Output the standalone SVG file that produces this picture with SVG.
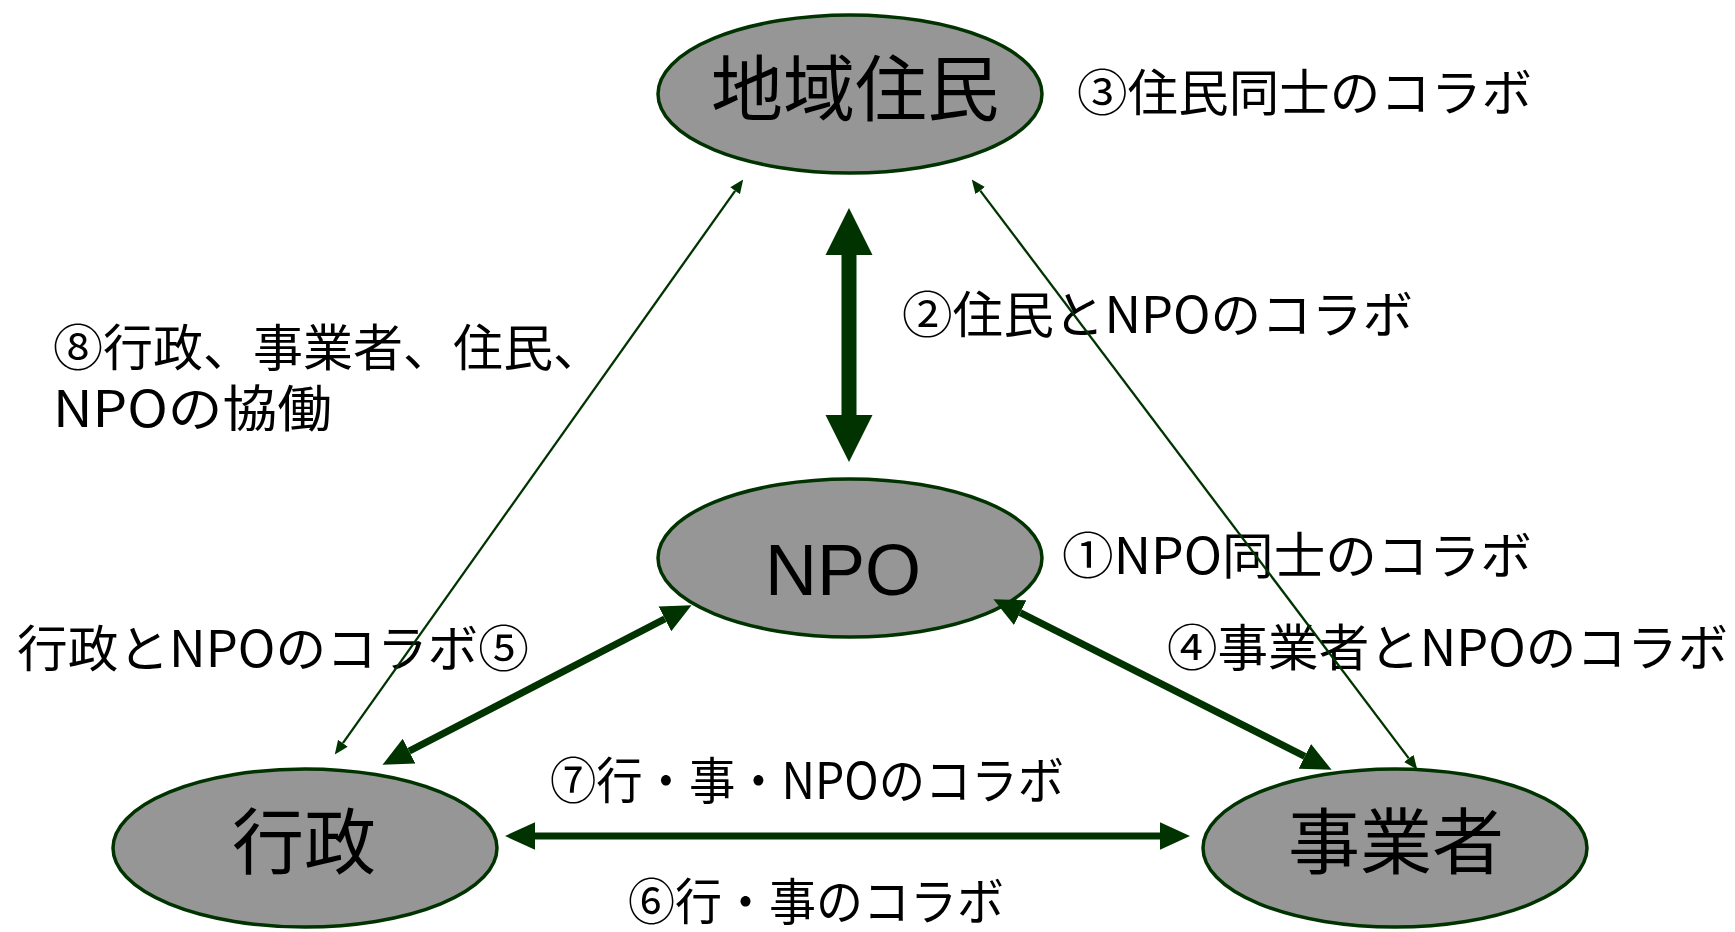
<svg xmlns="http://www.w3.org/2000/svg" width="1735" height="932" viewBox="0 0 1735 932">
<style>
.node ellipse{fill:#969696;stroke:#003300;stroke-width:3.5}
.nt{font-family:"Noto Sans CJK JP","Noto Sans CJK SC",sans-serif;font-size:72px;fill:#000;text-anchor:middle}
.nl{font-family:"Liberation Sans",Arial,sans-serif;font-size:72px;fill:#000;text-anchor:middle}
.lb{font-family:"Noto Sans CJK JP","Noto Sans CJK SC",sans-serif;font-size:50px;fill:#000}
.thick{stroke:#003300;stroke-width:7;fill:none}
.thin{stroke:#003300;stroke-width:2.3;fill:none}
</style>
<defs>
<marker id="hb" markerUnits="userSpaceOnUse" markerWidth="30" markerHeight="30" viewBox="0 0 26 24" refX="0" refY="12" orient="auto-start-reverse"><path d="M0,0 L26,12 L0,24 Z" fill="#003300"/></marker>
<marker id="hs" markerUnits="userSpaceOnUse" markerWidth="14" markerHeight="12" viewBox="0 0 13 11" refX="0" refY="5.5" orient="auto-start-reverse"><path d="M0,0 L13,5.5 L0,11 Z" fill="#003300"/></marker>
</defs>
<rect width="1735" height="932" fill="#fff"/>
<g id="labels">
<text class="lb" x="1077" y="111" textLength="455" lengthAdjust="spacingAndGlyphs">③住民同士のコラボ</text>
<text class="lb" x="902" y="333" textLength="511" lengthAdjust="spacingAndGlyphs">②住民とNPOのコラボ</text>
<text class="lb"><tspan x="53" y="366">⑧行政、事業者、住民、</tspan><tspan x="53" y="427" textLength="279" lengthAdjust="spacingAndGlyphs">NPOの協働</tspan></text>
<text class="lb" x="17" y="667" textLength="512" lengthAdjust="spacingAndGlyphs">行政とNPOのコラボ⑤</text>
<text class="lb" x="1062" y="574" textLength="470" lengthAdjust="spacingAndGlyphs">①NPO同士のコラボ</text>
<text class="lb" x="1167" y="666" textLength="561" lengthAdjust="spacingAndGlyphs">④事業者とNPOのコラボ</text>
<text class="lb" x="550" y="799" textLength="514" lengthAdjust="spacingAndGlyphs">⑦行・事・NPOのコラボ</text>
<text class="lb" x="628" y="920" textLength="376" lengthAdjust="spacingAndGlyphs">⑥行・事のコラボ</text>
</g>
<g id="n-jumin" class="node"><ellipse cx="850" cy="94" rx="192" ry="79"/><text class="nt" x="855" y="115">地域住民</text></g>
<g id="n-npo" class="node"><ellipse cx="850" cy="558" rx="192" ry="79"/><text class="nl" x="843" y="595">NPO</text></g>
<g id="n-gyosei" class="node"><ellipse cx="305" cy="848" rx="192" ry="79"/><text class="nt" x="304" y="868">行政</text></g>
<g id="n-jigyosha" class="node"><ellipse cx="1395" cy="848" rx="192" ry="79"/><text class="nt" x="1396" y="868">事業者</text></g>
<g id="connectors">
<polygon points="849,208 872.5,255 856.5,255 856.5,415 872.5,415 849,462 825.5,415 841.5,415 841.5,255 825.5,255" fill="#003300"/>
<line class="thick" x1="409.1" y1="751.1" x2="664.9" y2="618.9" marker-start="url(#hb)" marker-end="url(#hb)"/>
<line class="thick" x1="1020.2" y1="612.7" x2="1304.8" y2="756.3" marker-start="url(#hb)" marker-end="url(#hb)"/>
<line class="thick" x1="535" y1="836" x2="1160" y2="836" marker-start="url(#hb)" marker-end="url(#hb)"/>
<line class="thin" x1="342.9" y1="743.2" x2="735.1" y2="190.8" marker-start="url(#hs)" marker-end="url(#hs)"/>
<line class="thin" x1="980.2" y1="190.6" x2="1408.8" y2="758.4" marker-start="url(#hs)" marker-end="url(#hs)"/>
</g>
</svg>
